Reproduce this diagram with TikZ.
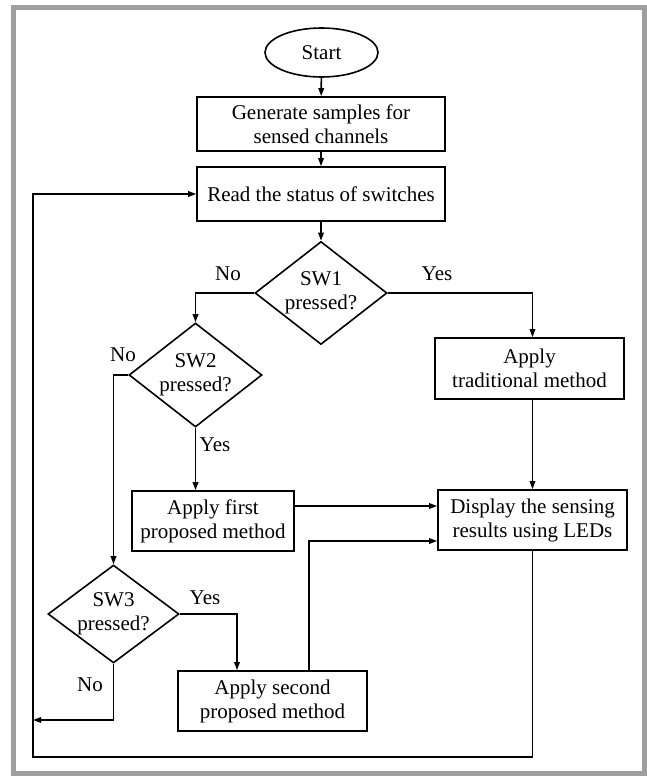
\documentclass[tikz,border=0pt]{standalone}
\usepackage{fontspec}
\setmainfont{Liberation Serif}
\usetikzlibrary{shapes.geometric,arrows.meta}
\definecolor{framegray}{HTML}{9E9E9E}
\tikzset{
  base/.style={draw=black, line width=1.6pt, align=center, inner sep=0pt,
    font=\fontsize{21}{24}\selectfont},
  procbox/.style={base, rectangle},
  startshape/.style={base, ellipse},
  decision/.style={base, diamond, aspect=1.3},
  lbl/.style={font=\fontsize{21}{24}\selectfont, inner sep=0pt},
  conn/.style={line width=1.6pt},
  arr/.style={conn, -{Triangle[length=8pt,width=5.5pt]}}
}
\begin{document}
\begin{tikzpicture}[x=1pt,y=-1pt]
\useasboundingbox (0,0) rectangle (646,776);
\draw[line width=5pt, framegray] (13.5,7.5) rectangle (644.5,773.5);

\node[startshape, minimum width=113pt, minimum height=49pt] (start) at (321.5,52.5) {Start};
\node[procbox, minimum width=248pt, minimum height=54pt] (gen) at (321,124) {Generate samples for\\sensed channels};
\node[procbox, minimum width=248pt, minimum height=54pt] (read) at (321,194) {Read the status of switches};
\node[decision, minimum width=132pt, minimum height=103pt] (sw1) at (321,293) {SW1\\pressed?};
\node[decision, minimum width=133pt, minimum height=104pt] (sw2) at (195.5,375) {SW2\\pressed?};
\node[decision, minimum width=131pt, minimum height=96pt] (sw3) at (113.5,614) {SW3\\pressed?};
\node[procbox, minimum width=189pt, minimum height=61pt] (trad) at (529.5,368.5) {Apply\\traditional method};
\node[procbox, minimum width=162pt, minimum height=60pt] (first) at (213,521) {Apply first\\proposed method};
\node[procbox, minimum width=189pt, minimum height=60pt] (disp) at (532.5,520) {Display the sensing\\results using LEDs};
\node[procbox, minimum width=189pt, minimum height=60pt] (second) at (272.5,701) {Apply second\\proposed method};

\node[lbl] (no1) at (228,274) {No};
\node[lbl] (yes1) at (437,274) {Yes};
\node[lbl] (no2) at (123,355) {No};
\node[lbl] (yes2) at (215,445) {Yes};
\node[lbl] (yes3) at (205,598) {Yes};
\node[lbl] (no3) at (90,685) {No};

\coordinate (noend) at (33,720);
\coordinate (corner) at (33,757);

\draw[arr] (start) -- (gen);
\draw[arr] (gen) -- (read);
\draw[arr] (read) -- (sw1);
\draw[arr] (sw1.west) -| (sw2.north);
\draw[arr] (sw1.east) -| (trad.north -| disp.north);
\draw[arr] (sw2.west) -| (sw3.north);
\draw[arr] (sw2.south) -- (sw2.south |- first.north);
\draw[arr] (trad.south -| disp.north) -- (disp.north);
\draw[arr] ([yshift=15pt]first.east) -- ([yshift=15pt]first.east -| disp.west);
\draw[arr] (sw3.east) -| ([xshift=-35.5pt]second.north);
\draw[arr] ([xshift=36.5pt]second.north) |- ([yshift=-21pt]disp.west);
\draw[arr] (sw3.south) |- (noend);
\draw[arr] (disp.south) |- (corner) -- (corner |- read.west) -- (read.west);
\end{tikzpicture}
\end{document}
